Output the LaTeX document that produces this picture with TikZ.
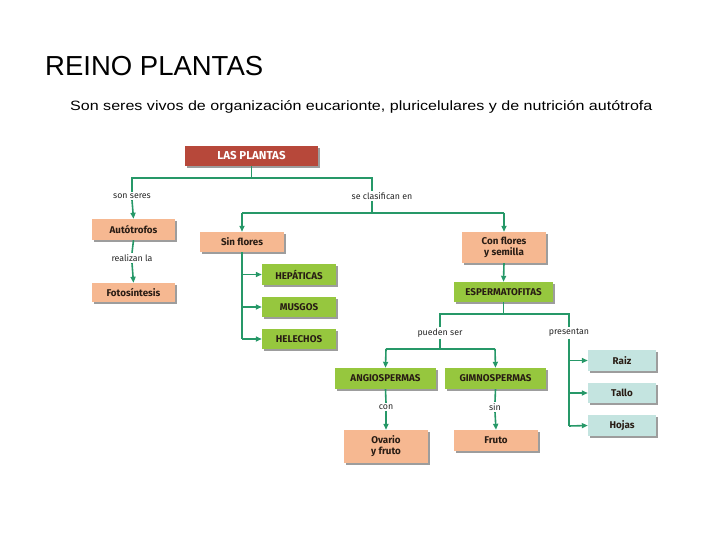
\documentclass[tikz,border=0pt]{standalone}
\usepackage{graphicx}
\usepackage{fontspec}
\setmainfont{Liberation Sans}
\newfontfamily\mapfont{Fira Sans}
\usetikzlibrary{arrows.meta,shadows}
\definecolor{cred}{RGB}{183,72,58}
\definecolor{csalm}{RGB}{246,184,145}
\definecolor{cgreen}{RGB}{150,199,62}
\definecolor{cteal}{RGB}{196,228,224}
\definecolor{cline}{RGB}{38,152,104}
\definecolor{ctext}{RGB}{40,28,20}
\tikzset{
  box/.style={rectangle,inner sep=0pt,align=center,text=ctext,
    font=\mapfont\bfseries\fontsize{9.8}{10.8}\selectfont,
    drop shadow={shadow xshift=1.6pt,shadow yshift=-1.6pt,fill=black!55,opacity=0.7}},
  redbox/.style={box,fill=cred,text=white,font=\mapfont\bfseries\fontsize{11.5}{12}\selectfont},
  salmbox/.style={box,fill=csalm},
  greenbox/.style={box,fill=cgreen},
  tealbox/.style={box,fill=cteal},
  lbl/.style={inner sep=1.5pt,font=\mapfont\fontsize{8.8}{10}\selectfont,text=black!85},
  conn/.style={draw=cline,line width=1.6pt},
  arr/.style={conn,-{Triangle[length=6pt,width=5pt]}},
}
\begin{document}
\begin{tikzpicture}[x=1pt,y=-1pt]
\useasboundingbox (0,0) rectangle (720,540);
\node[anchor=base west,inner sep=0pt,font=\fontsize{27.5}{30}\selectfont] (title) at (45,76) {REINO PLANTAS};
\node[anchor=base west,inner sep=0pt,font=\fontsize{13.5}{16}\selectfont] (sub) at (70,111) {\scalebox{1.19}[1]{Son seres vivos de organización eucarionte, pluricelulares y de nutrición autótrofa}};

% boxes
\node[redbox,minimum width=133pt,minimum height=20pt] (plantas) at (251.5,156) {LAS PLANTAS};
\node[salmbox,minimum width=83pt,minimum height=21pt] (auto) at (133.5,229.5) {Autótrofos};
\node[salmbox,minimum width=83pt,minimum height=19pt] (foto) at (133.5,292.5) {Fotosíntesis};
\node[salmbox,minimum width=84pt,minimum height=20pt] (sinfl) at (242,242) {Sin flores};
\node[salmbox,minimum width=84pt,minimum height=31pt] (conf) at (504,247.5) {Con flores\\y semilla};
\node[greenbox,minimum width=99pt,minimum height=20pt] (esper) at (503.5,292) {ESPERMATOFITAS};
\node[greenbox,minimum width=74pt,minimum height=21pt] (hep) at (299,274.5) {HEPÁTICAS};
\node[greenbox,minimum width=74pt,minimum height=20pt] (mus) at (299,307) {MUSGOS};
\node[greenbox,minimum width=74pt,minimum height=20pt] (hel) at (299,339) {HELECHOS};
\node[greenbox,minimum width=101pt,minimum height=21pt] (angio) at (385.5,378.5) {ANGIOSPERMAS};
\node[greenbox,minimum width=101pt,minimum height=21pt] (gimno) at (495.5,378.5) {GIMNOSPERMAS};
\node[salmbox,minimum width=84pt,minimum height=33pt] (ovario) at (386,446.5) {Ovario\\y fruto};
\node[salmbox,minimum width=84pt,minimum height=21pt] (fruto) at (496,440.5) {Fruto};
\node[tealbox,minimum width=68pt,minimum height=21pt] (raiz) at (622,360.5) {Raiz};
\node[tealbox,minimum width=68pt,minimum height=20pt] (tallo) at (622,393) {Tallo};
\node[tealbox,minimum width=68pt,minimum height=21pt] (hojas) at (622,425.5) {Hojas};

% labels
\node[lbl] (sonseres) at (132,196) {son seres};
\node[lbl] (realizan) at (132,258) {realizan la};
\node[lbl] (seclas) at (382,196) {se clasifican en};
\node[lbl] (pueden) at (440,333) {pueden ser};
\node[lbl] (presentan) at (569,333) {presentan};
\node[lbl] (con) at (386,407) {con};
\node[lbl] (sin) at (495,407) {sin};

% junction coordinates
\coordinate (hl) at (132,178);
\coordinate (hr) at (372,178);
\coordinate (cl) at (242,213);
\coordinate (cr) at (504,213);
\coordinate (el) at (440,314);
\coordinate (er) at (569,314);
\coordinate (pl) at (386,349);
\coordinate (pr) at (495,349);
\coordinate (sb) at (242,339);
\coordinate (tb) at (569,426);

% connectors
\draw[conn] (plantas.south) -- (plantas.south |- hl);
\draw[conn] (sonseres.north) -- (hl) -- (hr) -- (hr |- seclas.north);
\draw[arr] (sonseres.south) -- (auto.north);
\draw[conn] (auto.south) -- (realizan.north);
\draw[arr] (realizan.south) -- (foto.north);
\draw[conn] (hr |- seclas.south) -- (hr |- cl);
\draw[conn] (cl) -- (cr);
\draw[arr] (cl) -- (sinfl.north);
\draw[arr] (cr) -- (conf.north);
\draw[conn] (sinfl.south) -- (sb);
\draw[arr] (sinfl.south |- hep) -- (hep.west);
\draw[arr] (sinfl.south |- mus) -- (mus.west);
\draw[arr] (sb) -- (hel.west);
\draw[arr] (conf.south) -- (esper.north);
\draw[conn] (esper.south) -- (esper.south |- el);
\draw[conn] (pueden.north) -- (el) -- (er) -- (presentan.north);
\draw[conn] (pueden.south) -- (pueden.south |- pl);
\draw[conn] (pl) -- (pr);
\draw[arr] (pl) -- (angio.north);
\draw[arr] (pr) -- (gimno.north);
\draw[conn] (presentan.south) -- (tb);
\draw[arr] (er |- raiz) -- (raiz.west);
\draw[arr] (er |- tallo) -- (tallo.west);
\draw[arr] (tb) -- (hojas.west);
\draw[conn] (angio.south) -- (con.north);
\draw[arr] (con.south) -- (ovario.north);
\draw[conn] (gimno.south) -- (sin.north);
\draw[arr] (sin.south) -- (fruto.north);
\end{tikzpicture}
\end{document}
